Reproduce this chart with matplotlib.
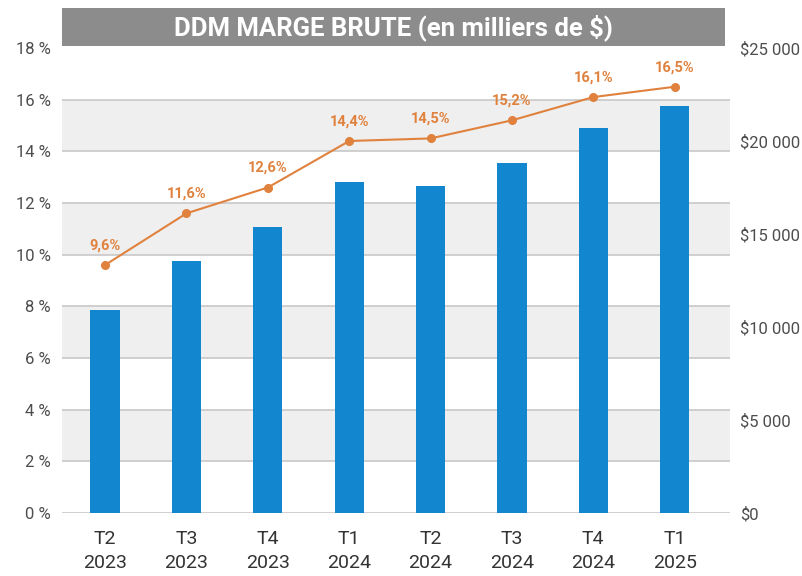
import matplotlib
matplotlib.use("Agg")
import matplotlib.pyplot as plt
from matplotlib.patches import Rectangle
import numpy as np

categories = ["T2\n2023", "T3\n2023", "T4\n2023", "T1\n2024", "T2\n2024", "T3\n2024", "T4\n2024", "T1\n2025"]
gross_margin_k = [10900, 13560, 15360, 17810, 17580, 18800, 20720, 21880]
margin_pct = [9.6, 11.6, 12.6, 14.4, 14.5, 15.2, 16.1, 16.5]
margin_labels = ["9,6%", "11,6%", "12,6%", "14,4%", "14,5%", "15,2%", "16,1%", "16,5%"]
left_ticks = [0, 2, 4, 6, 8, 10, 12, 14, 16, 18]
right_ticks = [0, 5000, 10000, 15000, 20000, 25000]
right_labels = ["$0", "$5 000", "$10 000", "$15 000", "$20 000", "$25 000"]
title = "DDM MARGE BRUTE (en milliers de $)"

plt.rcParams['font.family'] = ['Roboto', 'DejaVu Sans']

W, H = 803, 576
fig = plt.figure(figsize=(W / 100, H / 100), dpi=100)
fig.patch.set_facecolor("white")

left, right, bottom, top = 62, 730, 513, 48
ax = fig.add_axes([left / W, 1 - bottom / H, (right - left) / W, (bottom - top) / H])
ax2 = ax.twinx()

x = np.arange(len(categories))
ax.set_xlim(-0.53, 7.68)
ax.set_ylim(0, 18)
ax2.set_ylim(0, 25000)

# alternating bands
for lo in range(2, 18, 4):
    ax.axhspan(lo, lo + 2, color="#efefef", zorder=0, lw=0)
for t in left_ticks[:-1]:
    ax.axhline(t, color="#c8c8c8", lw=1.2, zorder=0.5)

# bars on right axis
ax2.bar(x, gross_margin_k, width=0.36, color="#1386d0", zorder=2)

# line on left scale, drawn on top
ax3 = ax2.twinx()
ax3.set_ylim(0, 18)
ax3.axis("off")
ax2.yaxis.tick_right()
ax2.yaxis.set_label_position("right")
ax3.plot(x, margin_pct, color="#e0823e", lw=1.5, marker="o", ms=5.5, zorder=3)
for xi, v, lab in zip(x, margin_pct, margin_labels):
    ax3.annotate(lab, (xi, v), xytext=(0, 9), textcoords="offset points",
                 ha="center", va="bottom", color="#e0823e", fontsize=10.5, fontweight="bold")

for a in (ax, ax2):
    for s in a.spines.values():
        s.set_visible(False)

ax.set_yticks(left_ticks)
ax.set_yticklabels([f"{t} %" for t in left_ticks], fontsize=12, color="#4d4d4d")
ax.tick_params(axis="y", length=0, pad=8)
ax.set_xticks(x)
ax.set_xticklabels(categories, fontsize=14, color="#333333", linespacing=1.45)
ax.tick_params(axis="x", length=0, pad=12)

ax2.set_yticks(right_ticks)
ax2.set_yticklabels(right_labels, fontsize=12, color="#4d4d4d")
ax2.tick_params(axis="y", length=0, pad=7)

# title banner
fig.patches.append(Rectangle((left / W, 1 - 46 / H), (right - 5 - left) / W, 38 / H,
                             transform=fig.transFigure, facecolor="#8c8c8c", edgecolor="none"))
fig.text((left + right - 5) / 2 / W, 1 - 28 / H, title, ha="center", va="center",
         color="white", fontsize=18.5, fontweight="bold")

fig.savefig("out.png", dpi=100, facecolor="white")
